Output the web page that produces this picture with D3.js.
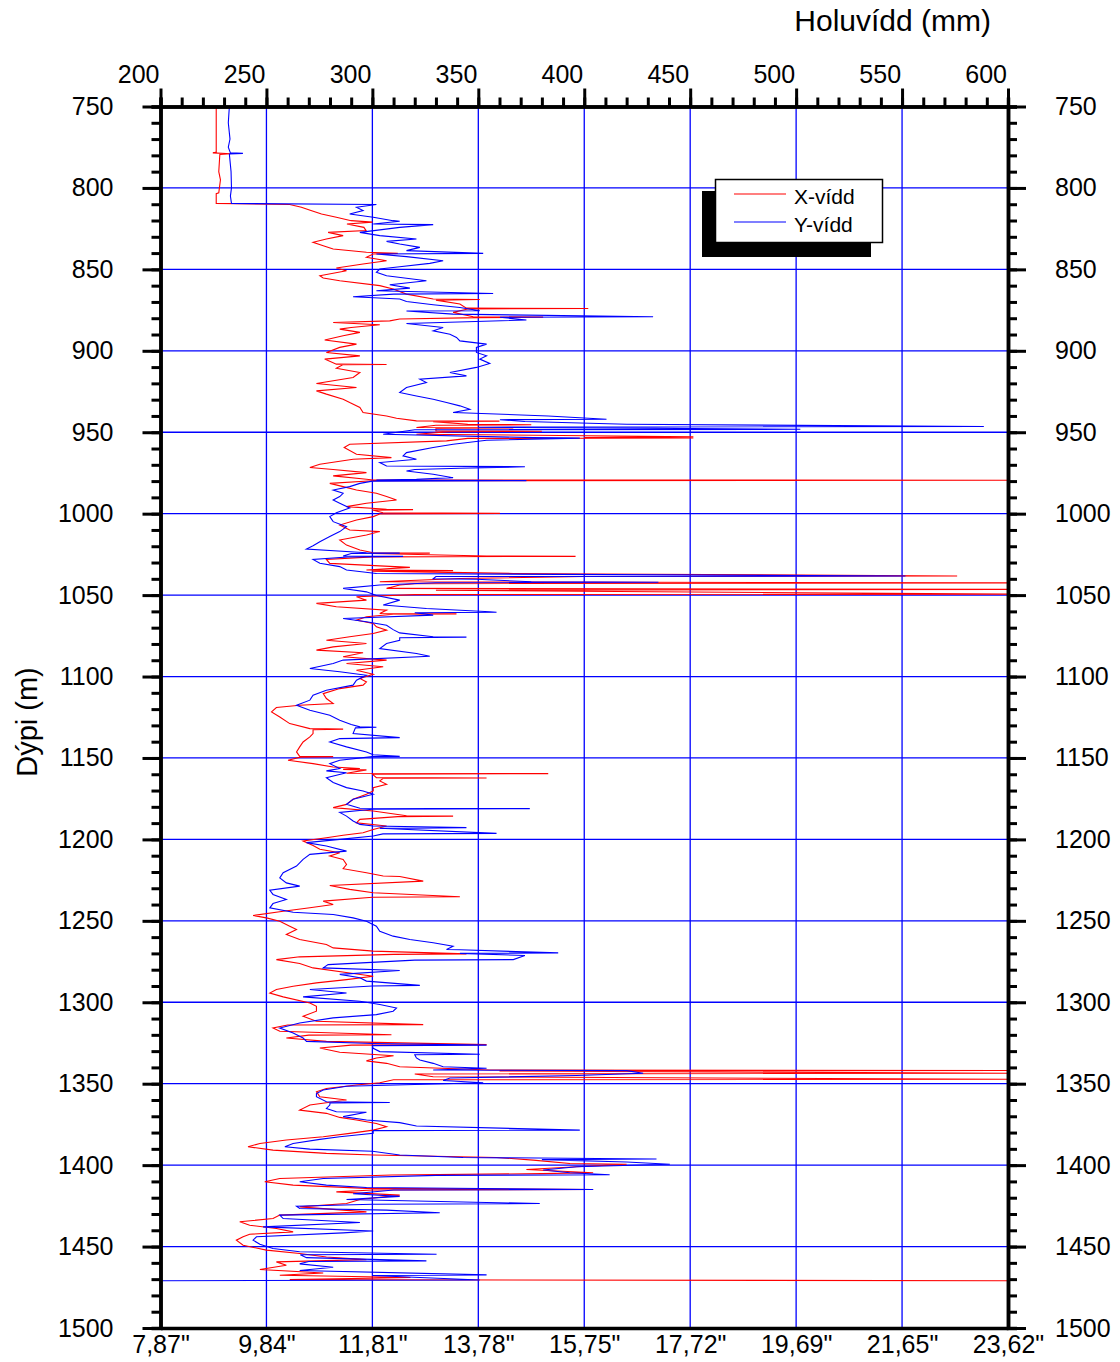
<!DOCTYPE html>
<html>
<head>
<meta charset="utf-8">
<script src="https://cdn.jsdelivr.net/npm/d3@7"></script>
<style>
  body { margin: 0; background: #fff; }
  svg text { font-family: "Liberation Sans", Arial, sans-serif; fill: #000; }
</style>
</head>
<body>
<svg id="chart" width="1120" height="1362"></svg>
<script>
// depth (m), X-vídd (mm)
var xVidd = [
  [750,226.3],[778,226.3],[778.5,224.7],[779,233],[779.5,228],[790,227.5],[795,228.3],[803,227.5],[803.5,226.3],[809.5,226.3],
  [810.2,261],[811.9,266.5],[813.9,271],[816,276],[818,283],[820.1,290],[821,300],[822.1,288],[824.2,296],[826.2,297],
  [827.3,279.1],[829.3,286.2],[831.4,278.3],[833.4,272],[835.5,276.8],[837.5,281.5],[839.5,297.2],[840.2,312],[840.6,300.4],[842.6,297.2],
  [844.7,306.7],[846.7,295.6],[849.2,283],[850.8,287.8],[853.9,275.2],[855.3,276.8],[857,284.6],[860,303.5],[862.1,309.8],[865.2,316.1],
  [868.2,328.7],[868.5,350.7],[868.9,330],[871.3,341.3],[873.8,344.4],[874,401.9],[874.3,345],[876.4,338.1],[879.1,347.6],[879.3,380.6],
  [879.6,350],[880.5,312.9],[881.6,308.2],[882.6,281.5],[884,303.5],[885.7,290],[886.7,284.6],[888.7,294.1],[890.8,286.2],[893.4,277.5],
  [895.9,292.5],[897.9,284.6],[901,278.3],[903.1,294.1],[905.1,277.5],[908.2,283],[908.4,306.7],[908.6,286],[910.7,283],[913.3,294.1],
  [916.4,290.9],[920.1,273.6],[922.5,292.5],[924.6,273.6],[926.6,278.3],[929.7,286.2],[931.8,289.3],[934.8,294.1],[937.9,295.6],[940,306.7],
  [941.4,311.4],[943,320.8],[943.2,360],[943.5,328.7],[945.1,345],[945.4,375],[945.7,330],[947.1,320.8],[947.3,366.5],[947.6,330],
  [949.2,330],[949.4,380],[949.7,336],[951.2,320.8],[952.8,451.5],[953.3,400],[953.5,451.5],[953.8,345],[955.3,335],[957.4,289.3],
  [959.4,286.7],[963.5,292.5],[965.6,309],[966.6,290.9],[969.7,275.2],[971.7,270.5],[972.9,281.5],[974.8,297.2],[976.8,281.5],[978.9,297.2],
  [979.3,300.4],[979.5,600],[979.8,300],[981.4,279.9],[983.4,286.2],[985.5,292.5],[987.5,301.9],[989.5,306.7],[991.6,311.4],[993.6,297.2],
  [995.7,287.8],[997.3,306.7],[997.5,319.2],[997.8,300],[999.4,305],[999.8,360.2],[1000.2,303.5],[1001.8,300.4],[1003.9,292.5],[1007,284.6],
  [1010,289.3],[1011,303.5],[1013.1,297.2],[1016.2,284.6],[1019.3,287.8],[1022.3,294.1],[1024,300.4],[1024.2,327.1],[1024.5,300],[1026,353.9],
  [1026.2,395.9],[1026.5,300],[1028.1,278.3],[1030.5,279.9],[1033,317.7],[1034.6,297.2],[1035,338.1],[1035.3,300],[1036.7,366.5],[1037,404.2],
  [1038.3,576],[1038.6,400],[1039.8,341.3],[1041.8,303.5],[1042.5,600],[1043,320],[1043.8,312.9],[1045.9,306.7],[1046.5,600],[1047,330],
  [1049.4,600],[1049.7,320],[1051,292.5],[1053.1,297.2],[1055.1,273.6],[1057.2,283],[1059.2,306.7],[1061.3,303.5],[1061.5,339.7],[1061.8,310],
  [1063.3,297.2],[1065.4,292.5],[1067.4,300.4],[1069.5,301.9],[1071.5,306.7],[1073.6,300.4],[1075.6,289.3],[1077.7,278.3],[1079.7,297.2],[1081.8,281.5],
  [1083.8,273.6],[1085.4,295.6],[1087.9,286.2],[1089.9,306.7],[1092,287.8],[1094,305.1],[1096.1,292.5],[1098.6,300.4],[1101.2,294.1],[1103.3,297.2],
  [1105.3,295.6],[1107.4,284.6],[1110.5,276.8],[1113.5,278.3],[1116.6,281.5],[1117.6,265.7],[1119,254.7],[1121.7,252.4],[1124.8,256.3],[1128.9,261],
  [1132,270.5],[1132.3,286.2],[1132.6,272],[1135,272],[1137.1,270.5],[1140.2,267.3],[1143.2,265.7],[1146.3,264.2],[1149,265.7],[1149.2,281.5],
  [1149.5,266],[1151.4,260.2],[1153.5,272],[1155.5,281.5],[1156.5,294.1],[1157,286.2],[1157.3,297.2],[1159.4,287.8],[1159.6,383],[1159.9,300],
  [1162.1,301.9],[1162.3,353.9],[1162.6,305],[1164.1,303.5],[1166.2,306.7],[1168.2,300.4],[1170.3,300.4],[1172.3,297.2],[1175.4,290.9],[1178.5,287.8],
  [1180.5,281.5],[1182.6,300.4],[1185.5,316.1],[1185.7,338.1],[1186,312],[1187.7,294.1],[1189.8,292.5],[1191.8,306.7],[1193.9,300.4],[1195.9,295.6],
  [1197.5,286.2],[1199,278.3],[1201,267.3],[1203.7,272],[1206.1,275.2],[1208.2,284.6],[1210.2,279.9],[1212.3,286.2],[1215.4,287.8],[1218,286.2],
  [1220.5,297.2],[1222.5,305.1],[1222.8,312.9],[1225.6,324],[1228.3,279.9],[1230.7,289.3],[1232.8,300.4],[1235.2,341.3],[1235.5,300],[1237.9,276.8],
  [1240,281.5],[1242,270.5],[1244.1,257.9],[1246.7,243.7],[1248.2,250],[1250.2,256.3],[1253.3,261],[1255.3,264.2],[1258.4,259.4],[1261.5,265.7],
  [1264.5,278.3],[1266.6,281.5],[1268.6,300.4],[1270.3,344.4],[1270.6,310],[1272.1,265.7],[1273.8,254.7],[1276.2,265.7],[1278.9,272],[1282,289.3],
  [1284,300.4],[1286.1,287.8],[1288.1,273.6],[1290.2,262.6],[1292.2,254.7],[1294.3,251.6],[1296.7,257.9],[1300.4,270.5],[1302.5,273.6],[1305.5,273.6],
  [1308.6,267.3],[1311.7,273.6],[1313.7,324],[1314,260],[1315.8,253.1],[1317.8,256.3],[1319.9,309],[1320.2,270],[1321.9,259.4],[1324,278.3],
  [1326,353.9],[1326.3,290],[1328.1,275.2],[1330.7,284.6],[1332.8,310],[1334.2,301.9],[1336,297.2],[1337.5,306.7],[1339.6,312.9],[1341.6,355.4],
  [1341.9,600],[1342.2,360],[1343.6,600],[1344,320],[1345.7,328.7],[1347.3,600],[1347.6,310],[1349.4,303.5],[1350.8,292.5],[1352.9,278.3],
  [1354.9,273.6],[1358,275.2],[1360,287.8],[1363.1,270.5],[1366.2,265.7],[1368.2,278.3],[1370.7,284.6],[1372.3,292.5],[1374.4,301.9],[1376.4,306.7],
  [1378.5,300.4],[1380.5,289.3],[1382.6,276.8],[1384.6,259.4],[1386.7,246.9],[1388.7,241.3],[1390.8,253.1],[1392.8,278.3],[1393.8,300.4],[1395.3,358.6],
  [1396.9,375.9],[1399,393.2],[1399.5,420],[1401,396.4],[1402.7,372.7],[1404.7,404.2],[1405.2,380],[1406.1,309],[1408.2,256.3],[1410.2,249.2],
  [1412.3,262.6],[1414.3,297.2],[1415,404.2],[1415.3,300],[1416.4,283],[1418.4,312.9],[1421.1,294.1],[1423.6,287.8],[1425.6,265.7],[1428.7,297.2],
  [1430.7,256.3],[1432.8,253.1],[1434.8,237.4],[1436.9,242.1],[1438.9,254.7],[1441,262.6],[1442.4,242.1],[1444,239],[1446.1,235.8],[1449.2,239],
  [1452.2,250],[1454.3,265.7],[1456.4,278.3],[1458,297.2],[1459.4,254.7],[1461.5,259.4],[1464.1,246.9],[1466.2,276.8],[1467.6,256.3],[1469,318],
  [1470.3,261],[1471,600]
];

// depth (m), Y-vídd (mm)
var yVidd = [
  [750,232.5],[760,232],[770,232.8],[775,232],[778.5,233],[778.8,238.9],[779.2,232.5],[790,233.3],[800,233.5],[805,233],
  [809.5,233.5],[810.2,301.9],[811.9,292.5],[813.9,295.6],[816,289.3],[818,300.4],[820.1,309.8],[820.5,312.9],[822.1,300.4],[822.5,328.7],
  [824.2,312.9],[827.3,294.1],[829.3,303.5],[831.4,320.8],[832.8,306.7],[834.4,312.9],[836.5,322.4],[838.5,316.1],[840.2,352.3],[840.6,301.9],
  [842.2,316.1],[844.7,333.4],[846.3,327.1],[848.4,312.9],[849.8,303.5],[851.8,301.9],[853.9,306.7],[857,325.5],[859.4,308.2],[861.5,317.7],
  [863.1,301.9],[864.8,357],[865.2,310],[866.8,290.9],[868.2,312.9],[869.7,316.1],[871.7,328.7],[873.4,341.3],[875.4,350.7],[875.6,316.1],
  [877.5,338.1],[879.1,432.5],[879.4,360.2],[881.1,372.7],[883.2,316.1],[885.7,333.4],[887.7,328.7],[889.8,336.6],[891.8,339.7],[893.9,341.3],
  [895.9,353.9],[897.9,349.1],[901,349.1],[903.1,353.9],[905.1,350.7],[907.8,355.4],[910.2,349.1],[913.3,336.6],[915.4,344.4],[917.4,322.4],
  [919.5,325.5],[922.5,316.1],[925.6,312.9],[927.7,320.8],[929.7,328.7],[931.8,335],[933.8,341.3],[935.9,346],[937.9,338.1],[940,383],
  [942,410.5],[942.3,360.2],[943.4,372],[945.1,420],[946.5,588.6],[946.9,350],[948.2,502],[948.5,320],[951.2,305.1],[953.3,375.9],
  [953.6,397.9],[954.9,353.9],[957.4,338.1],[959.4,328.7],[962.5,316.1],[964.5,314.5],[966.6,320.8],[968.6,303.5],[970.7,306.7],[971.2,372],
  [972.1,341.3],[972.9,320],[973.8,316.1],[975.8,328.7],[977.9,338.1],[978.9,320.8],[979.3,301.9],[979.7,372.7],[980,300],[981.4,294.1],
  [983.4,289.3],[985.5,281.5],[987.5,286.2],[989.5,284.6],[991.6,281.5],[993.6,284.6],[996.5,289.3],[999.4,283],[1001.8,279.9],[1004.9,281.5],
  [1008,287.8],[1011,284.6],[1014,279.9],[1017.2,275.2],[1019.7,272],[1021.7,268.9],[1024,297.2],[1024.2,312.9],[1024.5,290],[1026,286.2],
  [1026.2,314.5],[1026.5,290],[1028.1,272],[1030.5,275.2],[1032.5,284.6],[1034.6,287.8],[1036.7,301.9],[1038.3,551.6],[1038.6,330],[1040,328.7],
  [1040.3,349.1],[1041.8,375],[1042.1,435],[1042.4,330],[1043.8,303.5],[1045.9,286.2],[1048,297.2],[1050.2,301.9],[1053.1,312.9],[1056.1,305.1],
  [1058.2,325.5],[1060.2,355.4],[1060.5,358.6],[1060.8,320],[1062.3,328.7],[1064.4,286.2],[1066.4,297.2],[1068.5,306.7],[1071.2,309.8],[1073.2,312.9],
  [1075.6,328.7],[1075.8,344.4],[1076.2,312.9],[1077.7,312.9],[1079.7,306.7],[1082.8,303.5],[1085.9,320.8],[1087.5,327.1],[1089.9,286.2],[1092,281.5],
  [1095.1,270.5],[1097.1,284.6],[1099.2,297.2],[1102.3,292.5],[1105.3,290.9],[1108.4,278.3],[1111.5,272],[1114.5,270.5],[1117.6,264.2],[1120.7,270.5],
  [1123.8,279.9],[1126.8,284.6],[1129.5,290],[1130.9,294.1],[1131.1,301.9],[1131.5,292],[1135,290.9],[1137.5,312.9],[1138.1,284.6],[1140.2,279.9],
  [1143.2,287.8],[1146.3,297.2],[1148,300.4],[1149,312.9],[1149.2,300],[1151.4,284.6],[1153.5,279.9],[1156.5,284.6],[1157.9,278.3],[1159.1,287.8],
  [1162.1,278.3],[1165.1,281.5],[1168.2,287.8],[1170.3,295.6],[1172.3,300.4],[1175.4,290.9],[1178.5,287.8],[1180.9,294.1],[1181.1,374.3],[1181.5,300],
  [1183.4,284.6],[1185.7,287.8],[1188.7,290.9],[1190.8,294.1],[1191.8,300.4],[1192.8,344.4],[1193.2,303.5],[1196.3,358.6],[1196.6,305],[1197.9,300.4],
  [1200,284.6],[1202,268.9],[1204,278.3],[1207.2,287.8],[1209.2,270.5],[1212.3,267.3],[1216.4,264.2],[1220.5,257.9],[1223.6,256.3],[1226.7,259.4],
  [1228.7,265.7],[1231.2,251.6],[1233.8,253.1],[1236.9,259.4],[1239.4,253.1],[1242,251.6],[1244.7,262.6],[1246.1,281.5],[1248.2,290.9],[1250.2,297.2],
  [1253.3,301.9],[1256.4,303.5],[1259.4,309.8],[1261.5,317.7],[1263.5,328.7],[1265.6,338.1],[1267.6,335],[1267.8,341.3],[1269.7,387.7],[1270,341.3],
  [1271.3,372],[1273.8,366.5],[1274.1,320],[1276.9,279.1],[1278.9,276.8],[1280.5,312.9],[1282.9,284.6],[1284.9,294.1],[1287,297.2],[1289.6,322.4],
  [1290,300],[1292.2,270.5],[1294.3,287.8],[1296.7,267.3],[1299.4,294.1],[1301.4,303.5],[1303.5,311.4],[1305.5,309.8],[1307.6,301.9],[1309.6,281.5],
  [1312.7,265.7],[1315.8,256.3],[1318.8,262.6],[1321.9,267.3],[1324,268.9],[1325.3,300],[1326.3,353.9],[1326.6,300],[1328.3,300.4],[1330.3,303.5],
  [1331.9,350.7],[1332.2,320],[1334.2,320.8],[1335.5,322.4],[1337.5,328.7],[1339.6,333.4],[1340.5,353.9],[1341.6,328.7],[1342,420],[1343.6,427.8],
  [1345,396.4],[1346.5,336.6],[1348,333.4],[1349.4,352.3],[1351.6,287.8],[1353.9,276.8],[1356,273.6],[1358,273.6],[1361.1,278.3],[1361.5,308.2],
  [1361.8,280],[1363.1,279.9],[1365.2,278.3],[1367.2,283],[1367.5,297.2],[1370.2,286.2],[1372.3,297.2],[1373.9,312.9],[1376,320.8],[1378.5,397.9],
  [1378.8,300.4],[1380.5,300.4],[1382.6,284.6],[1384.2,275.2],[1386.7,262.6],[1388.7,258.7],[1390.2,270.5],[1391.5,300],[1393.8,312.9],[1395.3,342.8],
  [1396.2,434.1],[1396.6,380],[1398.1,420],[1399.5,440.4],[1401,396.4],[1403,380.6],[1404.7,393.2],[1405.9,412],[1406.3,330],[1408.2,276.8],
  [1410.2,265.7],[1412.3,278.3],[1413.7,297.2],[1415,404.2],[1415.3,310],[1417.6,290.9],[1419.2,312.9],[1421.1,287.8],[1423.6,379],[1424,300],
  [1425.2,264.2],[1426.6,265.7],[1427.6,306.7],[1429.2,331.8],[1430.7,256.3],[1432.8,257.9],[1435.2,294.1],[1437.9,248.4],[1440.4,300.4],[1441.6,286.2],
  [1444,245.3],[1446.1,243.7],[1448.6,246.9],[1451.2,253.1],[1453.2,265.7],[1454.7,330.3],[1455,266],[1456.8,268.9],[1458.8,325.5],[1459.2,270],
  [1460.6,265.7],[1462.7,281.5],[1464.7,265.7],[1467.4,353.9],[1467.8,300],[1469,322.4],[1470.5,350.7],[1471,200]
];

var mmTicks = [200, 250, 300, 350, 400, 450, 500, 550, 600];
var inchLabels = ['7,87"', '9,84"', '11,81"', '13,78"', '15,75"', '17,72"', '19,69"', '21,65"', '23,62"'];
var depthTicks = [750, 800, 850, 900, 950, 1000, 1050, 1100, 1150, 1200, 1250, 1300, 1350, 1400, 1450, 1500];
var legendNames = ["X-vídd", "Y-vídd"];
var seriesColors = ["#ff0000", "#0000ff"];

(function() {
  var plotLeft = 160.5, plotRight = 1008, plotTop = 106.5, plotBottom = 1328;

  var svg = d3.select("#chart");

  var x = d3.scaleLinear().domain([200, 600]).range([plotLeft, plotRight]);
  var y = d3.scaleLinear().domain([750, 1500]).range([plotTop, plotBottom]);

  // grid
  var grid = svg.append("g").attr("class", "grid");

  grid.append("g").selectAll("line")
    .data(mmTicks.slice(1, -1))
    .join("line")
    .attr("x1", d => x(d)).attr("x2", d => x(d))
    .attr("y1", plotTop).attr("y2", plotBottom)
    .style("stroke", "#0000ff").style("stroke-width", "1.3px");

  grid.append("g").selectAll("line")
    .data(depthTicks.slice(1, -1))
    .join("line")
    .attr("x1", plotLeft).attr("x2", plotRight)
    .attr("y1", d => y(d)).attr("y2", d => y(d))
    .style("stroke", "#0000ff").style("stroke-width", "1.3px");

  // traces
  svg.append("clipPath").attr("id", "plot-clip")
    .append("rect")
    .attr("x", plotLeft).attr("y", plotTop)
    .attr("width", plotRight - plotLeft).attr("height", plotBottom - plotTop);

  var line = d3.line()
    .x(d => x(d[1]))
    .y(d => y(d[0]));

  var traces = svg.append("g").attr("clip-path", "url(#plot-clip)");

  [xVidd, yVidd].forEach(function(series, i) {
    traces.append("path")
      .datum(series)
      .attr("fill", "none")
      .attr("stroke", seriesColors[i])
      .attr("stroke-width", 1.1)
      .attr("d", line);
  });

  // axes
  function styleAxis(g) {
    g.select(".domain").attr("stroke", "#000").attr("stroke-width", 3.5);
    g.selectAll(".tick line").attr("stroke", "#000").attr("stroke-width", 3);
    g.selectAll("text").style("font-size", "25px")
      .style("font-family", '"Liberation Sans", Arial, sans-serif');
  }

  var minorMm = d3.range(200, 601, 10);
  var minorDepth = d3.range(750, 1501, 10);

  // top
  svg.append("g")
    .attr("transform", `translate(0,${plotTop})`)
    .call(d3.axisTop(x).tickValues(minorMm).tickSize(9).tickFormat(""))
    .call(styleAxis);

  svg.append("g")
    .attr("transform", `translate(0,${plotTop})`)
    .call(d3.axisTop(x).tickValues(mmTicks).tickSize(18).tickSizeOuter(0).tickPadding(6)
      .tickFormat(d3.format("d")))
    .call(styleAxis)
    .call(g => g.selectAll("text").attr("text-anchor", "end").attr("dx", -1.5));

  // bottom
  svg.append("g")
    .attr("transform", `translate(0,${plotBottom})`)
    .call(d3.axisBottom(x).tickValues(mmTicks).tickSize(0).tickSizeOuter(0).tickPadding(7)
      .tickFormat((d, i) => inchLabels[i]))
    .call(styleAxis);

  // left
  svg.append("g")
    .attr("transform", `translate(${plotLeft},0)`)
    .call(d3.axisLeft(y).tickValues(minorDepth).tickSize(9).tickFormat(""))
    .call(styleAxis);

  svg.append("g")
    .attr("transform", `translate(${plotLeft},0)`)
    .call(d3.axisLeft(y).tickValues(depthTicks).tickSize(18).tickSizeOuter(0).tickPadding(29)
      .tickFormat(d3.format("d")))
    .call(styleAxis);

  // right
  svg.append("g")
    .attr("transform", `translate(${plotRight},0)`)
    .call(d3.axisRight(y).tickValues(minorDepth).tickSize(9).tickFormat(""))
    .call(styleAxis);

  svg.append("g")
    .attr("transform", `translate(${plotRight},0)`)
    .call(d3.axisRight(y).tickValues(depthTicks).tickSize(18).tickSizeOuter(0).tickPadding(29)
      .tickFormat(d3.format("d")))
    .call(styleAxis);

  // titles
  svg.append("text")
    .attr("x", 991).attr("y", 31)
    .attr("text-anchor", "end")
    .style("font-size", "30px")
    .text("Holuvídd (mm)");

  svg.append("text")
    .attr("transform", "translate(37,722) rotate(-90)")
    .attr("text-anchor", "middle")
    .style("font-size", "29px")
    .text("Dýpi (m)");

  // legend
  var legend = svg.append("g");
  legend.append("rect")
    .attr("x", 702).attr("y", 191).attr("width", 169).attr("height", 66)
    .attr("fill", "#000");
  legend.append("rect")
    .attr("x", 715.5).attr("y", 179.5).attr("width", 167).attr("height", 63)
    .attr("fill", "#fff").attr("stroke", "#000").attr("stroke-width", 1.5);

  legendNames.forEach(function(name, i) {
    var ly = 194 + i * 28;
    legend.append("line")
      .attr("x1", 734).attr("x2", 786)
      .attr("y1", ly).attr("y2", ly)
      .attr("stroke", seriesColors[i]).attr("stroke-width", 1.2);
    legend.append("text")
      .attr("x", 794).attr("y", ly + 10)
      .style("font-size", "21px")
      .text(name);
  });
})();
</script>
</body>
</html>
